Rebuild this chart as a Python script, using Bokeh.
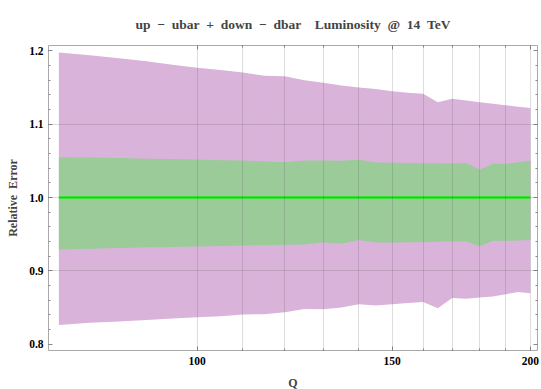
import numpy as np
from bokeh.plotting import figure
from bokeh.models import FixedTicker, LinearAxis, LogAxis, Title, Range1d
from bokeh.embed import file_html
from bokeh.resources import INLINE

# ---- data ----
Q = [75, 80, 85, 90, 95, 100, 105, 110, 115, 120, 125, 130, 135, 140, 145,
     150, 155, 160, 165, 170, 175, 180, 185, 190, 195, 200]
outer_hi = [1.198, 1.194, 1.190, 1.186, 1.181, 1.177, 1.174, 1.1705, 1.166, 1.1655,
            1.160, 1.1565, 1.153, 1.150, 1.148, 1.145, 1.143, 1.1415, 1.130, 1.1346,
            1.1325, 1.130, 1.128, 1.126, 1.124, 1.122]
outer_lo = [0.826, 0.829, 0.831, 0.833, 0.835, 0.8367, 0.838, 0.8404, 0.8408, 0.8435,
            0.848, 0.8475, 0.850, 0.8545, 0.8527, 0.8545, 0.856, 0.8575, 0.849, 0.863,
            0.862, 0.8635, 0.865, 0.868, 0.871, 0.8694]
inner_hi = [1.055, 1.0545, 1.0538, 1.053, 1.0525, 1.0518, 1.051, 1.0505, 1.049, 1.048,
            1.0505, 1.0505, 1.050, 1.0514, 1.0477, 1.0473, 1.047, 1.0468, 1.0466, 1.0464,
            1.047, 1.0378, 1.046, 1.046, 1.048, 1.050]
inner_lo = [0.929, 0.930, 0.931, 0.932, 0.9325, 0.9332, 0.934, 0.9345, 0.935, 0.9355,
            0.936, 0.939, 0.937, 0.942, 0.9386, 0.9386, 0.939, 0.939, 0.9395, 0.940,
            0.940, 0.9336, 0.941, 0.941, 0.9415, 0.942]
central = [1.0] * len(Q)

y_major = [0.8, 0.9, 1.0, 1.1, 1.2]
x_major = [100, 150, 200]
x_minor = [110, 120, 130, 140, 160, 170, 180, 190]

FONT = "Liberation Serif"
SP = "\u2002"

p = figure(frame_width=489, frame_height=305, x_axis_type="log", output_backend="svg",
           toolbar_location=None, x_range=Range1d(73.4, 203.0),
           y_range=Range1d(0.7913, 1.2074),
           min_border_left=48, min_border_right=4, min_border_top=45,
           min_border_bottom=39)
p.background_fill_color = "white"
p.border_fill_color = "white"
p.outline_line_color = None

p.varea(x=Q, y1=outer_lo, y2=outer_hi, fill_color="#dab3da")
p.varea(x=Q, y1=inner_lo, y2=inner_hi, fill_color="#9acb99")
p.line(x=Q, y=central, line_color="#18e818", line_width=2.5)

# grid
p.xgrid.ticker = FixedTicker(ticks=sorted(x_major + x_minor))
p.ygrid.ticker = FixedTicker(ticks=[0.9, 1.0, 1.1])
for g in (p.xgrid, p.ygrid):
    g.grid_line_color = "#555555"
    g.grid_line_alpha = 0.2
    g.grid_line_width = 1
    g.level = "annotation"

yminor = [round(0.8 + 0.02 * i, 2) for i in range(21)]
yt = FixedTicker(ticks=y_major, minor_ticks=yminor)
xt = FixedTicker(ticks=x_major, minor_ticks=x_minor)


def style(ax, labels=True):
    ax.axis_line_color = "#aaaaaa"
    ax.major_tick_line_color = "#888888"
    ax.minor_tick_line_color = "#888888"
    ax.major_tick_in = 4
    ax.major_tick_out = 0
    ax.minor_tick_in = 2
    ax.minor_tick_out = 0
    ax.major_label_text_font = FONT
    ax.major_label_text_font_style = "bold"
    ax.major_label_text_font_size = "11.5px"
    ax.major_label_text_color = "black" if labels else None
    ax.axis_label_text_font = FONT
    ax.axis_label_text_font_style = "bold"
    ax.axis_label_text_font_size = "12px"


p.yaxis.ticker = yt
p.yaxis.major_label_overrides = {0.8: "0.8", 0.9: "0.9", 1.0: "1.0", 1.1: "1.1", 1.2: "1.2"}
p.yaxis.axis_label = "Relative" + SP + "Error"
p.xaxis.ticker = xt
p.xaxis.axis_label = "Q"
p.xaxis.major_label_overrides = {100: "100", 150: "150", 200: "200"}
style(p.xaxis[0])
style(p.yaxis[0])
p.yaxis.major_label_standoff = 5
p.yaxis.axis_label_standoff = 6
p.xaxis.major_label_standoff = 6
p.xaxis.axis_label_standoff = 8

ra = LinearAxis(ticker=yt)
style(ra, labels=False)
ra.major_label_text_font_size = "0px"
ra.major_label_standoff = 0
p.add_layout(ra, "right")
ta = LogAxis(ticker=xt)
style(ta, labels=False)
ta.major_label_text_font_size = "0px"
ta.major_label_standoff = 0
p.add_layout(ta, "above")

title_text = ("up" + SP + "\u2212" + SP + "ubar" + SP + "+" + SP + "down" + SP + "\u2212" + SP
              + "dbar" + SP + SP + "Luminosity" + SP + "@" + SP + "14" + SP + "TeV")
p.title = Title(text=title_text,
                text_font=FONT, text_font_style="bold", text_font_size="13.5px",
                align="center", offset=-6, standoff=28)

open("out.html", "w").write(file_html(p, INLINE))
